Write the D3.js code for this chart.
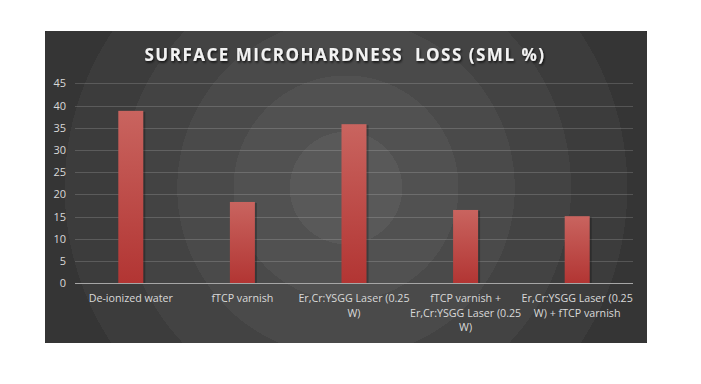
<!DOCTYPE html>
<html lang="en">
<head>
<meta charset="utf-8">
<script src="https://cdn.jsdelivr.net/npm/d3@7"></script>
<style>
body { margin: 0; background: #fff; }
#chart text { font-family: "Open Sans", "Noto Sans", sans-serif; }
.title { fill: #f2f2f2; font-weight: bold; font-size: 17px; letter-spacing: 1.5px; }
.tick text { fill: #d9d9d9; font-size: 11px; }
.cat { fill: #d9d9d9; font-size: 10.7px; }
</style>
</head>
<body>
<div id="chart"></div>
<script>
// values
var categories = [
    ["De-ionized water"],
    ["fTCP varnish"],
    ["Er,Cr:YSGG Laser (0.25", "W)"],
    ["fTCP varnish +", "Er,Cr:YSGG Laser (0.25", "W)"],
    ["Er,Cr:YSGG Laser (0.25", "W) + fTCP varnish"]
];
var sml = [38.8, 18.3, 35.8, 16.5, 15.1];
var yTicks = [0, 5, 10, 15, 20, 25, 30, 35, 40, 45];

var width = 701, height = 384;
var box = {x: 45, y: 31, w: 602, h: 312};
var plot = {left: 75, right: 633, top: 83.3, bottom: 283.3};

var svg = d3.select("#chart").append("svg")
    .attr("width", width)
    .attr("height", height);

var defs = svg.append("defs");

// stepped radial background like the office theme
var rg = defs.append("radialGradient")
    .attr("id", "bg")
    .attr("gradientUnits", "userSpaceOnUse")
    .attr("cx", 346).attr("cy", 188).attr("r", 450);
var ringCols = ["#595959", "#515151", "#4a4a4a", "#434343", "#3c3c3c", "#353535", "#2e2e2e", "#262626"];
ringCols.forEach(function (c, i) {
    var a = i / ringCols.length, b = (i + 1) / ringCols.length;
    rg.append("stop").attr("offset", a).attr("stop-color", c);
    rg.append("stop").attr("offset", b).attr("stop-color", c);
});

var bargrad = defs.append("linearGradient")
    .attr("id", "bar").attr("x1", 0).attr("y1", 0).attr("x2", 0).attr("y2", 1);
bargrad.append("stop").attr("offset", 0).attr("stop-color", "#c9645f");
bargrad.append("stop").attr("offset", 1).attr("stop-color", "#b23533");

var shadow = defs.append("filter").attr("id", "tshadow")
    .attr("x", "-10%").attr("y", "-30%").attr("width", "120%").attr("height", "160%");
shadow.append("feDropShadow").attr("dx", 1).attr("dy", 1.5).attr("stdDeviation", 1)
    .attr("flood-color", "#000").attr("flood-opacity", 0.8);

svg.append("rect")
    .attr("x", box.x).attr("y", box.y)
    .attr("width", box.w).attr("height", box.h)
    .attr("fill", "url(#bg)");

svg.append("text")
    .attr("class", "title")
    .attr("x", 345).attr("y", 61)
    .attr("text-anchor", "middle")
    .attr("filter", "url(#tshadow)")
    .attr("xml:space", "preserve")
    .text("SURFACE MICROHARDNESS  LOSS (SML %)");

var x = d3.scaleBand()
    .domain(d3.range(categories.length))
    .range([plot.left, plot.right])
    .paddingInner(0.776)
    .paddingOuter(0.388);

var y = d3.scaleLinear()
    .domain([0, 45])
    .range([plot.bottom, plot.top]);

// gridlines
svg.append("g")
    .selectAll("line")
    .data(yTicks.slice(1))
    .enter().append("line")
    .attr("x1", plot.left).attr("x2", plot.right)
    .attr("y1", function (d) { return Math.round(y(d)) + 0.5; })
    .attr("y2", function (d) { return Math.round(y(d)) + 0.5; })
    .attr("stroke", "#ffffff")
    .attr("stroke-opacity", 0.16)
    .attr("stroke-width", 1);

var yAxis = svg.append("g")
    .attr("transform", "translate(" + plot.left + ",0)")
    .call(d3.axisLeft(y).tickValues(yTicks).tickSize(0).tickPadding(9));
yAxis.select(".domain").remove();

// bars with a soft right shadow
var bars = svg.append("g").selectAll("g")
    .data(sml)
    .enter().append("g");

bars.append("rect")
    .attr("x", function (d, i) { return x(i) + 2; })
    .attr("y", function (d) { return y(d) + 1; })
    .attr("width", x.bandwidth())
    .attr("height", function (d) { return y(0) - y(d) - 1; })
    .attr("fill", "#000")
    .attr("opacity", 0.25);

bars.append("rect")
    .attr("x", function (d, i) { return x(i); })
    .attr("y", function (d) { return y(d); })
    .attr("width", x.bandwidth())
    .attr("height", function (d) { return y(0) - y(d); })
    .attr("fill", "url(#bar)");

// zero axis line
svg.append("line")
    .attr("x1", plot.left).attr("x2", plot.right)
    .attr("y1", Math.round(y(0)) + 0.5).attr("y2", Math.round(y(0)) + 0.5)
    .attr("stroke", "#a6a6a6");

// category labels
var cats = svg.append("g").selectAll("text")
    .data(categories)
    .enter().append("text")
    .attr("class", "cat")
    .attr("text-anchor", "middle")
    .attr("transform", function (d, i) {
        return "translate(" + (x(i) + x.bandwidth() / 2) + "," + 302 + ")";
    });
cats.selectAll("tspan")
    .data(function (d) { return d; })
    .enter().append("tspan")
    .attr("x", 0)
    .attr("y", function (d, j) { return j * 14.5; })
    .text(function (d) { return d; });
</script>
</body>
</html>
